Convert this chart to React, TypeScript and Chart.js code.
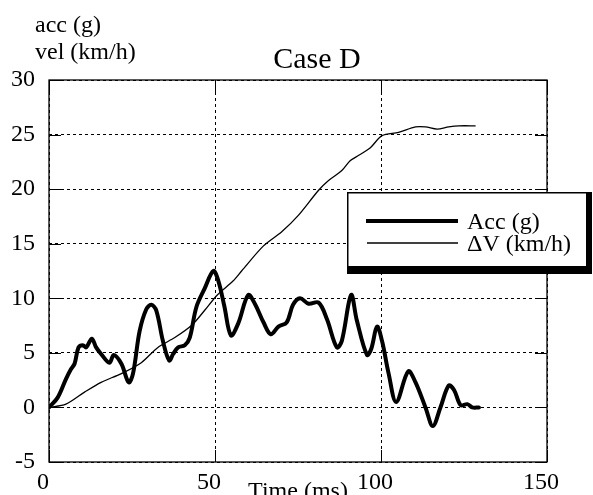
import React, { useEffect, useRef } from 'react';
import { Chart, registerables } from 'chart.js';

Chart.register(...registerables);

// ---- data ----
const accTime = [0, 2.6, 5.1, 6.6, 7.7, 8.9, 10.2, 11.2, 12.9, 14.2, 15.7, 18.2, 19.5, 21.8, 24, 25.3, 27.3, 29.3, 30.8, 32.3, 34.3, 36.2, 37.4, 38.9, 40.9, 42.4, 44.4, 46.9, 49.5, 51, 52.8, 54.8, 57, 60, 62, 64.6, 66.8, 69.1, 71.6, 73.5, 75.6, 78.2, 81.2, 83.7, 86.7, 88.2, 91, 92.7, 95.8, 97.1, 98.8, 100.3, 102.3, 104.6, 108.2, 110.4, 113.4, 115.6, 117.9, 120.4, 122, 124, 126, 127.5, 129.5];
const accValues = [0, 0.9, 2.6, 3.5, 4.0, 5.5, 5.7, 5.5, 6.3, 5.5, 4.9, 4.1, 4.8, 4.0, 2.3, 3.1, 7.0, 9.0, 9.4, 8.9, 6.1, 4.3, 4.9, 5.5, 5.7, 6.4, 9.2, 10.9, 12.5, 11.6, 9.3, 6.6, 7.7, 10.3, 9.5, 7.8, 6.7, 7.4, 7.8, 9.4, 10.0, 9.5, 9.6, 8.1, 5.5, 6.1, 10.3, 8.0, 4.8, 5.4, 7.4, 6.1, 3.1, 0.5, 3.3, 2.3, 0, -1.7, 0, 2.0, 1.6, 0.2, 0.3, 0, 0];
const dvTime = [0, 5.1, 10.7, 15.7, 21.8, 27.8, 32.8, 37.9, 42.9, 46.9, 50.7, 55.5, 58, 64.6, 70.1, 75.1, 81.2, 84.2, 88.2, 90.7, 93.3, 96.8, 100.3, 105.3, 110.4, 113.4, 116.9, 120.4, 123.5, 128.5];
const dvValues = [0, 0.3, 1.4, 2.3, 3.1, 4.1, 5.5, 6.4, 7.5, 8.9, 10.3, 11.6, 12.5, 14.8, 16.1, 17.6, 19.9, 20.8, 21.7, 22.6, 23.1, 23.8, 24.9, 25.2, 25.7, 25.7, 25.5, 25.7, 25.8, 25.8];

const xTicks = [0, 50, 100, 150];
const yTicks = [-5, 0, 5, 10, 15, 20, 25, 30];
const titleText = 'Case D';
const yAxisLabels = ['acc (g)', 'vel (km/h)'];
const xAxisLabel = 'Time (ms)';
const seriesNames = ['Acc (g)', '\u0394V (km/h)'];

const SERIF = '"Liberation Serif", "Times New Roman", serif';

const decorPlugin = {
  id: 'decor',
  afterDatasetsDraw(chart: any) {
    const { ctx, chartArea: a } = chart;
    const xs = chart.scales.x;
    const ys = chart.scales.y;
    ctx.save();
    ctx.strokeStyle = '#000';
    ctx.lineWidth = 1.3;
    ctx.setLineDash([]);
    ctx.strokeRect(a.left, a.top, a.right - a.left, a.bottom - a.top);
    const line = (x1: number, y1: number, x2: number, y2: number) => {
      ctx.beginPath();
      ctx.moveTo(x1, y1);
      ctx.lineTo(x2, y2);
      ctx.stroke();
    };
    ctx.lineWidth = 1;
    yTicks.forEach((v) => {
      const py = Math.round(ys.getPixelForValue(v)) + 0.5;
      line(a.left, py, a.left + 12, py);
      line(a.right - 12, py, a.right, py);
    });
    xTicks.forEach((v) => {
      const px = Math.round(xs.getPixelForValue(v)) + 0.5;
      line(px, a.bottom, px, a.bottom - 12);
      line(px, a.top, px, a.top + 12);
    });
    ctx.restore();
  },
  afterDraw(chart: any) {
    const { ctx } = chart;
    ctx.save();
    ctx.fillStyle = '#000';
    ctx.textBaseline = 'alphabetic';
    // title
    ctx.font = `30px ${SERIF}`;
    ctx.textAlign = 'center';
    ctx.fillText(titleText, 317, 68);
    // y axis labels
    ctx.font = `24px ${SERIF}`;
    ctx.textAlign = 'left';
    ctx.fillText(yAxisLabels[0], 35, 32);
    ctx.fillText(yAxisLabels[1], 35, 59);

    // legend box with shadow
    const L = 347, T = 192, R = 592, B = 274;
    ctx.fillStyle = '#000';
    ctx.fillRect(L, B - 8, R - L, 8);
    ctx.fillRect(R - 6, T, 6, B - T);
    ctx.fillStyle = '#fff';
    ctx.fillRect(L + 1, T + 1, R - 6 - L - 1, B - 8 - T - 1);
    ctx.strokeStyle = '#000';
    ctx.lineWidth = 1.5;
    ctx.strokeRect(L + 0.75, T + 0.75, R - 6 - L, B - 8 - T);

    ctx.lineCap = 'butt';
    ctx.lineWidth = 4;
    ctx.beginPath();
    ctx.moveTo(366, 221);
    ctx.lineTo(458, 221);
    ctx.stroke();
    ctx.lineWidth = 1.3;
    ctx.beginPath();
    ctx.moveTo(367, 243);
    ctx.lineTo(458, 243);
    ctx.stroke();

    ctx.fillStyle = '#000';
    ctx.font = `24px ${SERIF}`;
    ctx.fillText(seriesNames[0], 467, 229);
    ctx.fillText(seriesNames[1], 467, 251);
    ctx.restore();
  },
};

export default function App() {
  const canvasRef = useRef<HTMLCanvasElement | null>(null);

  useEffect(() => {
    const canvas = canvasRef.current;
    if (!canvas) return;
    const accData = accTime.map((t, i) => ({ x: t, y: accValues[i] }));
    const dvData = dvTime.map((t, i) => ({ x: t, y: dvValues[i] }));
    const tickFont = { family: SERIF, size: 24 };
    const chart = new Chart(canvas, {
      type: 'line',
      data: {
        datasets: [
          {
            label: seriesNames[0],
            data: accData,
            borderColor: '#000',
            borderWidth: 4,
            pointRadius: 0,
            tension: 0.35,
            borderJoinStyle: 'round',
            borderCapStyle: 'round',
            fill: false,
          },
          {
            label: seriesNames[1],
            data: dvData,
            borderColor: '#000',
            borderWidth: 1.3,
            pointRadius: 0,
            tension: 0.3,
            fill: false,
          },
        ],
      },
      options: {
        responsive: false,
        animation: false,
        devicePixelRatio: 1,
        layout: { padding: { top: 80, right: 46, left: 0, bottom: 0 } },
        plugins: {
          legend: { display: false },
          title: { display: false },
          tooltip: { enabled: false },
        },
        scales: {
          x: {
            type: 'linear',
            min: 0,
            max: 150,
            afterFit: (s: any) => {
              s.height = 33;
            },
            ticks: {
              stepSize: 50,
              padding: 6,
              labelOffset: -6,
              maxRotation: 0,
              autoSkip: false,
              color: '#000',
              font: tickFont,
            },
            grid: { color: '#000', lineWidth: 1, drawTicks: false },
            border: { display: false, dash: [3, 3] },
            title: {
              display: true,
              text: xAxisLabel,
              color: '#000',
              font: { family: SERIF, size: 24 },
              padding: { top: 0, bottom: -11 },
            },
          },
          y: {
            type: 'linear',
            min: -5,
            max: 30,
            afterFit: (s: any) => {
              s.width = 49;
            },
            ticks: {
              stepSize: 5,
              padding: 14,
              autoSkip: false,
              color: '#000',
              font: tickFont,
            },
            grid: { color: '#000', lineWidth: 1, drawTicks: false },
            border: { display: false, dash: [3, 3] },
          },
        },
      },
      plugins: [decorPlugin],
    } as any);
    return () => chart.destroy();
  }, []);

  return (
    <div style={{ position: 'fixed', left: 0, top: 0, width: 593, height: 495, background: '#fff' }}>
      <canvas ref={canvasRef} width={593} height={495} style={{ display: 'block' }} />
    </div>
  );
}
